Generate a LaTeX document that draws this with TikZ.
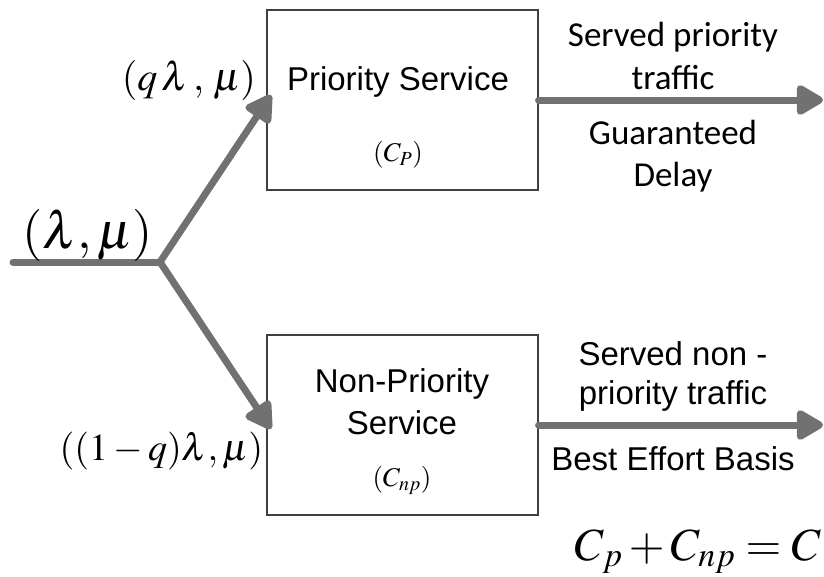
\documentclass[tikz,border=0pt]{standalone}
\usepackage{mathptmx}
\usepackage{fontspec}
\setmainfont{Liberation Sans}
\newfontfamily\calibri{Carlito}
\usetikzlibrary{arrows.meta}
\definecolor{arrowgray}{HTML}{717171}
\definecolor{boxgray}{HTML}{404040}
\newcommand{\fs}[2]{\fontsize{#1}{#2}\selectfont}
\tikzset{
  flow/.style={draw=arrowgray, line width=7pt, line cap=round,
    -{Triangle[length=30pt,width=33pt,round]}},
  plainflow/.style={draw=arrowgray, line width=7pt, line cap=round},
  servbox/.style={draw=boxgray, line width=1.1pt, minimum width=271pt,
    minimum height=180pt, inner sep=0pt},
  lbl/.style={inner sep=0pt, outer sep=0pt},
}
\begin{document}
\begin{tikzpicture}[x=1pt,y=-1pt]
\useasboundingbox (0,0) rectangle (824,576);
% boxes
\node[servbox] (top) at (402.5,100) {};
\node[servbox] (bot) at (402.5,425) {};
% box texts
\node[lbl, anchor=base, font=\fs{33}{40}] (ptxt) at (398,90) {Priority Service};
\node[lbl, anchor=base, font=\fs{27}{30}] (cp) at (398,161) {$(C_P)$};
\node[lbl, align=center, font=\fs{33}{42}] (nptxt) at (402,402) {Non-Priority\\Service};
\node[lbl, anchor=base, font=\fs{27}{30}] (cnp) at (402,486) {$(C_{np})$};
% connectors
\coordinate (in) at (13,262);
\coordinate (j) at (160,262);
\coordinate (tipA) at (271,95);
\coordinate (tipB) at (271,429);
\coordinate (outA) at (823,100);
\coordinate (outB) at (823,425);
\draw[plainflow] (in) -- (j);
\draw[flow] (j) -- (tipA);
\draw[flow] (j) -- (tipB);
\draw[flow] (top.east) -- (outA);
\draw[flow] (bot.east) -- (outB);
% math labels
\node[lbl, anchor=base east, font=\fs{40}{44}] (lq) at (256,90) {$(q\,\lambda\,,\,\mu)$};
\node[lbl, anchor=base west, font=\fs{52}{56}] (lin) at (22,248) {$(\lambda,\mu)$};
\node[lbl, anchor=base east, font=\fs{38}{42}] (lnq) at (263,460) {$((1-q)\lambda,\mu)$};
% right texts
\node[lbl, align=center, font={\calibri\fs{35}{43}}] (spt) at (673,56) {Served priority\\traffic};
\node[lbl, align=center, font={\calibri\fs{35}{42}}] (gd) at (673,156) {Guaranteed\\Delay};
\node[lbl, align=center, font=\fs{33}{39}] (snp) at (673,376) {Served non -\\priority traffic};
\node[lbl, anchor=base, font=\fs{33}{40}] (beb) at (673,470) {Best Effort Basis};
% equation
\node[lbl, anchor=base east, font=\fs{46}{50}] (eq) at (821,560) {$C_p+C_{np}=C$};
\end{tikzpicture}
\end{document}
